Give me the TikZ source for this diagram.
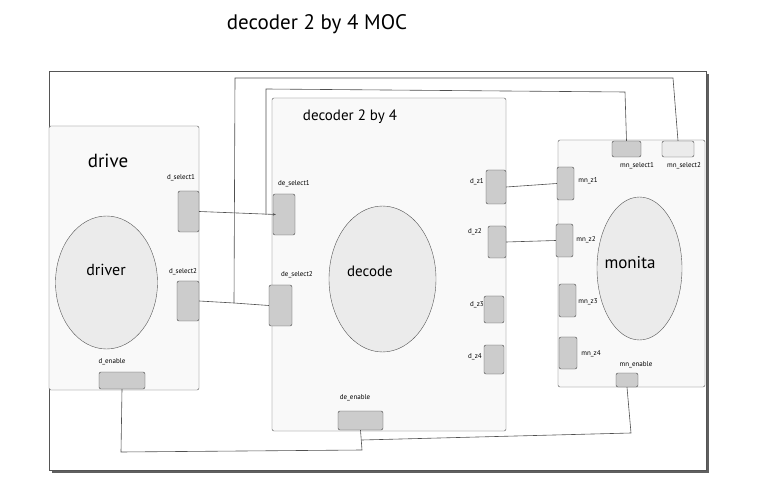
\documentclass[tikz,border=0pt]{standalone}
\usepackage{fontspec}
\setmainfont{PT Sans}
\usepackage{xcolor}
\usetikzlibrary{arrows.meta,shapes.geometric}
\definecolor{boxfill}{HTML}{F9F9F9}
\definecolor{ellfill}{HTML}{EBEBEB}
\definecolor{portfill}{HTML}{CCCCCC}
\definecolor{edge}{HTML}{555555}
\definecolor{wire}{HTML}{505050}

\begin{document}
\begin{tikzpicture}[x=1pt, y=-1pt,
    block/.style={draw=edge, fill=boxfill, rounded corners=2pt, inner sep=0pt},
    blob/.style={draw=edge, fill=ellfill, ellipse, inner sep=0pt},
    port/.style={draw=edge!80!black, fill=portfill, rounded corners=2pt, inner sep=0pt},
    plabel/.style={font=\fontsize{7}{8}\selectfont},
    wire/.style={draw=wire, line width=0.6pt}]
  \useasboundingbox (0,0) rectangle (761,497);

  % Title
  \node[font=\fontsize{21}{24}\selectfont] (title) at (317,24) {decoder 2 by 4 MOC};

  % Outer frame with shadow
  \fill[gray!75!black] (52,74) rectangle (709,473);
  \draw[edge, fill=white] (49,71) rectangle (706,470);

  % Components
  \node[block, minimum width=150, minimum height=264] (drive) at (124,258) {};
  \node[block, minimum width=234, minimum height=333] (decoder) at (389,264.5) {};
  \node[block, minimum width=147, minimum height=247] (monitabox) at (631.5,263.5) {};
  \node[font=\fontsize{19}{22}\selectfont] at (108,161) {drive};
  \node[font=\fontsize{15}{18}\selectfont] at (350,117) {decoder 2 by 4};

  % Processes
  \node[blob, minimum width=102, minimum height=133] (driver) at (106.5,282.5) {};
  \node[blob, minimum width=107, minimum height=146] (decode) at (382.5,279) {};
  \node[blob, minimum width=85, minimum height=143] (monita) at (639.5,268.5) {};
  \node[font=\fontsize{16}{19}\selectfont] at (106,270) {driver};
  \node[font=\fontsize{15}{18}\selectfont] at (370,271) {decode};
  \node[font=\fontsize{17}{20}\selectfont] at (630,263) {monita};

  % Ports: drive
  \node[port, minimum width=21, minimum height=41] (ds1) at (188.5,211.5) {};
  \node[port, minimum width=22, minimum height=40] (ds2) at (188,301) {};
  \node[port, minimum width=46, minimum height=17] (den) at (122,380.5) {};
  \node[plabel] at (181,178) {d\_select1};
  \node[plabel] at (183,272) {d\_select2};
  \node[plabel] at (112,362) {d\_enable};

  % Ports: decoder
  \node[port, minimum width=22, minimum height=41] (des1) at (284,214.5) {};
  \node[port, minimum width=23, minimum height=41] (des2) at (280.5,305.5) {};
  \node[port, minimum width=20, minimum height=34] (dz1) at (496,187) {};
  \node[port, minimum width=18, minimum height=32] (dz2) at (497,242) {};
  \node[port, minimum width=20, minimum height=27] (dz3) at (494,309.5) {};
  \node[port, minimum width=20, minimum height=29] (dz4) at (494,359.5) {};
  \node[port, minimum width=45, minimum height=19] (deen) at (360.5,420.5) {};
  \node[plabel] at (294,184) {de\_select1};
  \node[plabel] at (297,275) {de\_select2};
  \node[plabel] at (477,182) {d\_z1};
  \node[plabel] at (475,232) {d\_z2};
  \node[plabel] at (477,305) {d\_z3};
  \node[plabel] at (475,357) {d\_z4};
  \node[plabel] at (355,398) {de\_enable};

  % Ports: monita
  \node[port, minimum width=29, minimum height=16] (ms1) at (626.5,149) {};
  \node[port, fill=ellfill, minimum width=32, minimum height=16] (ms2) at (678,149) {};
  \node[port, minimum width=17, minimum height=33] (mz1) at (565.5,183.5) {};
  \node[port, minimum width=17, minimum height=33] (mz2) at (564.5,240.5) {};
  \node[port, minimum width=17, minimum height=33] (mz3) at (567.5,300.5) {};
  \node[port, minimum width=18, minimum height=32] (mz4) at (568,353) {};
  \node[port, minimum width=22, minimum height=14] (men) at (627,380) {};
  \node[plabel] at (637,166) {mn\_select1};
  \node[plabel] at (684,166) {mn\_select2};
  \node[plabel] at (588,181) {mn\_z1};
  \node[plabel] at (586,240) {mn\_z2};
  \node[plabel] at (588,302) {mn\_z3};
  \node[plabel] at (591,354) {mn\_z4};
  \node[plabel] at (636,365) {mn\_enable};

  % Junctions
  \coordinate (j1) at (266,215);
  \coordinate (j2) at (234,303);
  \coordinate (j3) at (362,440);

  % Select wires
  \draw[wire, -{Stealth[length=3pt, width=2.5pt]}] (ds1.east) -- ([xshift=3]des1.west);
  \draw[wire] (j1) -- (266,89) -- (625,92) -- (ms1.north);
  \draw[wire] (ds2.east) -- (j2) -- (des2.west);
  \draw[wire] (j2) -- (235,78) -- (673,78) -- (ms2.north);

  % Output wires
  \draw[wire] (dz1.east) -- (mz1.west);
  \draw[wire] (dz2.east) -- (mz2.west);

  % Enable wires
  \draw[wire] (den.south) -- (121,452) -- (362,450) -- (deen.south);
  \draw[wire] (j3) -- (631,433) -- (men.south);
\end{tikzpicture}
\end{document}
